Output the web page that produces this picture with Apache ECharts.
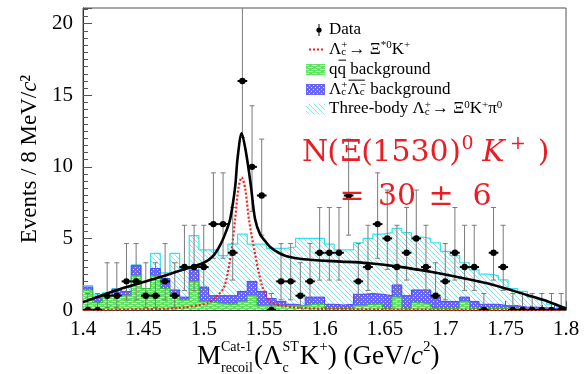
<!DOCTYPE html>
<html>
<head>
<meta charset="utf-8">
<script src="https://cdn.jsdelivr.net/npm/echarts@6/dist/echarts.min.js"></script>
<style>
  html, body { margin: 0; padding: 0; background: #fff; }
  #chart { width: 584px; height: 374px; }
</style>
</head>
<body>
<div id="chart"></div>
<script>
// binning: 50 bins of 8 MeV from 1.4 to 1.8 GeV
const binStart = 1.4;
const binWidth = 0.008;

// observed events per bin
const dataCounts = [0, 0, 1, 1, 2, 2, 1, 1, 2, 1,
  3, 3, 3, 6, 6, 4, 16, 10, 8, 0,
  2, 2, 1, 2, 4, 4, 4, 8, 2, 3,
  6, 5, 3, 4, 5, 3, 1, 2, 4, 3,
  3, 0, 4, 3, 0, 0, 0, 0, 0, 0];

// asymmetric error bar sizes, looked up by count
const errCounts = [0, 1, 2, 3, 4, 5, 6, 8, 10, 16];
const errDown = [0, 0.83, 1.29, 1.63, 1.91, 2.16, 2.38, 2.77, 3.11, 3.95];
const errUp = [1.15, 2.30, 2.64, 2.92, 3.16, 3.38, 3.58, 3.94, 4.27, 5.10];

// MC shapes
const threeBody = [1.7, 1.05, 1.2, 1.5, 1.6, 3.15, 1.5, 3.95, 2.6, 3.95,
  2.9, 5.2, 4.2, 4.2, 3.8, 4.6, 5.3, 4.6, 4.6, 4.3,
  4.3, 4.4, 5.0, 5.0, 5.0, 4.6, 4.2, 4.2, 4.7, 5.0,
  5.3, 5.4, 5.7, 5.4, 5.1, 5.0, 4.7, 4.1, 3.8, 3.3,
  2.8, 2.5, 2.4, 2.1, 1.5, 1.3, 0.9, 0.7, 0.4, 0.2];
const lcBackground = [1.6, 0.9, 1.0, 1.45, 1.3, 3.1, 1.45, 2.9, 2.2, 1.4,
  0.9, 2.8, 1.6, 1.0, 1.0, 1.0, 1.3, 2.0, 1.3, 0.8,
  0.6, 0.4, 0.3, 0.9, 0.9, 0.4, 0.35, 0.4, 1.1, 1.15,
  1.1, 1.0, 1.75, 1.0, 1.4, 1.4, 0.9, 0.6, 0.6, 0.9,
  0.6, 0.4, 0.4, 0.3, 0.3, 0.2, 0.2, 0.15, 0.1, 0.1];
const qqBackground = [1.4, 0.5, 1.0, 1.0, 1.0, 2.4, 1.5, 2.4, 1.5, 1.0,
  0.7, 2.0, 0.6, 0.5, 0.4, 0.4, 0.6, 1.0, 0.3, 0.3,
  0.3, 0.3, 0.3, 0.4, 0.4, 0.1, 0.1, 0.1, 0.3, 0.4,
  0.4, 0.1, 0.9, 0.1, 0.5, 0.4, 0.1, 0.1, 0.1, 0.6,
  0.1, 0.1, 0.1, 0.1, 0.1, 0.05, 0.05, 0.05, 0, 0];

// fitted curves, sampled off the plot
const totalFitX = [1.400, 1.420, 1.436, 1.450, 1.464, 1.484, 1.500, 1.508, 1.514, 1.519, 1.522, 1.526, 1.528, 1.5314,
  1.535, 1.539, 1.5424, 1.5466, 1.551, 1.555, 1.562, 1.5687, 1.5825, 1.610, 1.635, 1.661, 1.689, 1.716, 1.740, 1.7675, 1.785, 1.800];
const totalFitY = [0.55, 1.15, 1.6, 1.95, 2.3, 2.85, 3.3, 3.8, 4.6, 5.6, 6.4, 8.6, 10.6, 12.35,
  11.0, 8.7, 6.4, 5.3, 4.8, 4.4, 4.0, 3.75, 3.55, 3.4, 3.28, 3.03, 2.65, 2.2, 1.75, 1.05, 0.6, 0.1];
const signalX = [1.40, 1.45, 1.48, 1.503, 1.510, 1.517, 1.5226, 1.5259, 1.5287, 1.5314, 1.5343, 1.5375, 1.5424, 1.5485, 1.555, 1.565, 1.58, 1.60, 1.65, 1.80];
const signalY = [0.0, 0.05, 0.15, 0.47, 0.9, 1.63, 3.96, 6.29, 8.5, 9.27, 8.5, 6.29, 3.96, 1.63, 0.6, 0.3, 0.15, 0.08, 0.03, 0.0];

const yMax = 21.1;
const serif = '"Liberation Serif", "Times New Roman", serif';
const mathFont = '"DejaVu Serif", serif';

const binEdges = [];
for (let i = 0; i <= dataCounts.length; i++) binEdges.push(+(binStart + i * binWidth).toFixed(4));

function histData(vals) {
  return binEdges.map((e, i) => [e, vals[Math.min(i, vals.length - 1)]]);
}

function makePattern(w, h, draw) {
  const c = document.createElement('canvas');
  c.width = w; c.height = h;
  draw(c.getContext('2d'), w, h);
  return { image: c, repeat: 'repeat' };
}

const greenFill = makePattern(8, 4, (g, w, h) => {
  g.fillStyle = '#62e262'; g.fillRect(0, 0, w, h);
  g.fillStyle = '#d6f7d0';
  g.fillRect(0, 1, 5, 1); g.fillRect(4, 3, 4, 1); g.fillRect(0, 3, 1, 1);
});
const blueFill = makePattern(4, 4, (g, w, h) => {
  g.fillStyle = '#6a64ff'; g.fillRect(0, 0, w, h);
  g.fillStyle = '#e4e2ff';
  g.fillRect(1, 1, 1, 1); g.fillRect(3, 3, 1, 1);
});
const cyanFill = makePattern(5, 5, (g, w, h) => {
  g.fillStyle = '#86e6ee';
  for (let i = 0; i < w; i++) g.fillRect(i, i, 1, 1);
});

const dataPoints = dataCounts.map((n, i) => {
  const k = errCounts.indexOf(n);
  return [binStart + (i + 0.5) * binWidth, n, n - errDown[k], n + errUp[k]];
});

// text helper: parts laid out left to right, "stack" keeps x for the next part
const measureCtx = document.createElement('canvas').getContext('2d');
function textRun(x0, y0, parts, family, color) {
  const out = [];
  let x = x0, stackW = 0;
  parts.forEach(p => {
    const font = (p.it ? 'italic ' : '') + p.s + 'px ' + family;
    measureCtx.font = font;
    const w = measureCtx.measureText(p.t).width;
    out.push({
      type: 'text', x: x, y: y0 + (p.dy || 0), silent: true,
      style: { text: p.t, font: font, fill: color, align: 'left', verticalAlign: 'middle', textAlign: 'left', textVerticalAlign: 'middle' }
    });
    if (p.bar) {
      const by = y0 + (p.dy || 0) - p.s * 0.55;
      out.push({ type: 'line', silent: true, shape: { x1: x + 1, y1: by, x2: x + w + (p.barExt || 0), y2: by }, style: { stroke: color, lineWidth: 1 } });
    }
    if (p.stack) {
      stackW = Math.max(stackW, w);
    } else {
      x += Math.max(stackW, w) + (p.gap || 0);
      stackW = 0;
    }
  });
  return out;
}

const legendX = 329;
const legendRows = [30, 49.5, 69.5, 89.5, 109];
const lg = 17, ls = 11;
const legendGraphics = [
  { type: 'line', silent: true, shape: { x1: 319, y1: 24, x2: 319, y2: 36 }, style: { stroke: '#000', lineWidth: 1 } },
  { type: 'circle', silent: true, shape: { cx: 319, cy: 30, r: 2.6 }, style: { fill: '#000' } },
  { type: 'line', silent: true, shape: { x1: 309, y1: 49.5, x2: 325, y2: 49.5 }, style: { stroke: '#ff1a1a', lineWidth: 2, lineDash: [2, 2] } },
  { type: 'rect', silent: true, shape: { x: 306, y: 64, width: 19, height: 11 }, style: { fill: greenFill } },
  { type: 'rect', silent: true, shape: { x: 306, y: 84, width: 19, height: 11 }, style: { fill: blueFill } },
  { type: 'rect', silent: true, shape: { x: 306, y: 103.5, width: 19, height: 11 }, style: { fill: cyanFill } }
].concat(
  textRun(legendX, legendRows[0], [{ t: 'Data', s: lg }], serif, '#000'),
  textRun(legendX, legendRows[1], [
    { t: 'Λ', s: lg }, { t: 'c', s: ls, dy: 3, stack: true }, { t: '+', s: ls, dy: -4, gap: 1 },
    { t: '→ Ξ', s: lg }, { t: '*0', s: ls, dy: -4 }, { t: 'K', s: lg }, { t: '+', s: ls, dy: -4 }
  ], serif, '#000'),
  textRun(legendX, legendRows[2], [
    { t: 'q', s: lg }, { t: 'q', s: lg, bar: true }, { t: ' background', s: lg }
  ], serif, '#000'),
  textRun(legendX, legendRows[3], [
    { t: 'Λ', s: lg }, { t: 'c', s: ls, dy: 3, stack: true }, { t: '+', s: ls, dy: -4 },
    { t: 'Λ', s: lg, bar: true, barExt: 5 }, { t: 'c', s: ls, dy: 3, stack: true }, { t: '−', s: ls, dy: -4 },
    { t: ' background', s: lg }
  ], serif, '#000'),
  textRun(legendX, legendRows[4], [
    { t: 'Three-body Λ', s: lg }, { t: 'c', s: ls, dy: 3, stack: true }, { t: '+', s: ls, dy: -4, gap: 1 },
    { t: '→ Ξ', s: lg }, { t: '0', s: ls, dy: -4 }, { t: 'K', s: lg }, { t: '+', s: ls, dy: -4 },
    { t: 'π', s: lg }, { t: '0', s: ls, dy: -4 }
  ], serif, '#000')
);

// the yield annotation
const red = '#ec1c24';
const noteLine1 = [
  ['N', 315, 153, false, 30], ['(', 333, 153, false, 30], ['Ξ', 351, 153, false, 30], ['(', 367, 153, false, 30],
  ['1530', 410.5, 153, false, 30], [')', 455, 153, false, 30], ['0', 467.5, 144, false, 19],
  ['K', 493.5, 153, true, 30], ['+', 518, 144, false, 19], [')', 543.5, 153, false, 30]
];
const noteLine2 = [['=', 352, 197, false, 30], ['30', 397, 197, false, 30], ['±', 441, 197, false, 30], ['6', 482, 197, false, 30]];
const noteGraphics = noteLine1.concat(noteLine2).map(([t, x, y, it, s]) => ({
  type: 'text', x: x, y: y, silent: true, z: 20,
  style: { text: t, font: (it ? 'italic ' : '') + s + 'px ' + mathFont, fill: red, align: 'center', verticalAlign: 'middle', textAlign: 'center', textVerticalAlign: 'middle' }
}));

// x axis title
const titleGraphics = textRun(197, 357, [
  { t: 'M', s: 27 }, { t: 'Cat-1', s: 14, dy: -10, stack: true }, { t: 'recoil', s: 14, dy: 11, gap: 1 },
  { t: '(Λ', s: 27 }, { t: 'c', s: 14, dy: 11, stack: true }, { t: 'ST', s: 14, dy: -10, gap: 1 },
  { t: 'K', s: 27 }, { t: '+', s: 15, dy: -10 }, { t: ') (GeV/', s: 27 }, { t: 'c', s: 27, it: true },
  { t: '2', s: 15, dy: -10 }, { t: ')', s: 27 }
], serif, '#000');

const chart = echarts.init(document.getElementById('chart'));

chart.setOption({
  animation: false,
  backgroundColor: '#fff',
  grid: { left: 83, right: 18, top: 8, bottom: 64, show: true, borderColor: '#555', borderWidth: 1, backgroundColor: 'transparent' },
  xAxis: {
    type: 'value', min: 1.4, max: 1.8, interval: 0.05,
    axisLine: { lineStyle: { color: '#333', width: 1 } },
    axisTick: { inside: true, length: 9, lineStyle: { color: '#555' } },
    minorTick: { show: true, splitNumber: 5, length: 5, lineStyle: { color: '#555' } },
    splitLine: { show: false },
    axisLabel: { color: '#000', fontFamily: serif, fontSize: 21, margin: 9, formatter: v => String(+v.toFixed(2)) }
  },
  yAxis: {
    type: 'value', min: 0, max: yMax, interval: 5,
    name: 'Events / 8 MeV/{i|c}²', nameLocation: 'middle', nameRotate: 90, nameGap: 40,
    nameTextStyle: { color: '#000', fontFamily: serif, fontSize: 23, rich: { i: { fontStyle: 'italic', fontFamily: serif, fontSize: 23 } } },
    axisLine: { show: true, lineStyle: { color: '#333', width: 1 } },
    axisTick: { inside: true, length: 9, lineStyle: { color: '#555' } },
    minorTick: { show: true, splitNumber: 10, length: 5, lineStyle: { color: '#555' } },
    splitLine: { show: false },
    axisLabel: { color: '#000', fontFamily: serif, fontSize: 21, margin: 10, showMaxLabel: false }
  },
  series: [
    {
      name: 'Three-body', type: 'line', step: 'end', data: histData(threeBody), symbol: 'none', z: 1,
      lineStyle: { color: '#30e3ec', width: 1.2 }, areaStyle: { color: cyanFill, opacity: 1 }
    },
    {
      name: 'LcLc background', type: 'line', step: 'end', data: histData(lcBackground), symbol: 'none', z: 2,
      lineStyle: { color: '#4b44ff', width: 1 }, areaStyle: { color: blueFill, opacity: 1 }
    },
    {
      name: 'qq background', type: 'line', step: 'end', data: histData(qqBackground), symbol: 'none', z: 3,
      lineStyle: { color: '#2fc82f', width: 1 }, areaStyle: { color: greenFill, opacity: 1 }
    },
    {
      name: 'Signal', type: 'line', smooth: 0.3, symbol: 'none', z: 4,
      data: signalX.map((x, i) => [x, signalY[i]]),
      lineStyle: { color: '#ff1a1a', width: 2.2, type: [2, 2] }
    },
    {
      name: 'Data', type: 'custom', z: 5, clip: true,
      data: dataPoints,
      renderItem: (params, api) => {
        const x = api.value(0), y = api.value(1);
        const top = params.coordSys.y;
        const p = api.coord([x, y]);
        const lo = api.coord([x, api.value(2)]);
        const hi = api.coord([x, api.value(3)]);
        const hiY = Math.max(hi[1], top);
        const half = api.size([binWidth, 0])[0] / 2;
        const gray = { stroke: '#7a7a7a', lineWidth: 1 };
        const children = [
          { type: 'line', shape: { x1: p[0], y1: lo[1], x2: p[0], y2: hiY }, style: gray },
          { type: 'line', shape: { x1: p[0] - 2.5, y1: lo[1], x2: p[0] + 2.5, y2: lo[1] }, style: gray }
        ];
        if (hi[1] > top) children.push({ type: 'line', shape: { x1: p[0] - 2.5, y1: hiY, x2: p[0] + 2.5, y2: hiY }, style: gray });
        children.push(
          { type: 'line', shape: { x1: p[0] - half, y1: p[1], x2: p[0] + half, y2: p[1] }, style: { stroke: '#000', lineWidth: 2 } },
          { type: 'circle', shape: { cx: p[0], cy: p[1], r: 3.2 }, style: { fill: '#000' } }
        );
        return { type: 'group', children: children };
      }
    },
    {
      name: 'Total fit', type: 'line', smooth: 0.3, symbol: 'none', z: 6,
      data: totalFitX.map((x, i) => [x, totalFitY[i]]),
      lineStyle: { color: '#000', width: 2.6 }
    }
  ],
  graphic: { elements: legendGraphics.concat(noteGraphics, titleGraphics) }
});
</script>
</body>
</html>
